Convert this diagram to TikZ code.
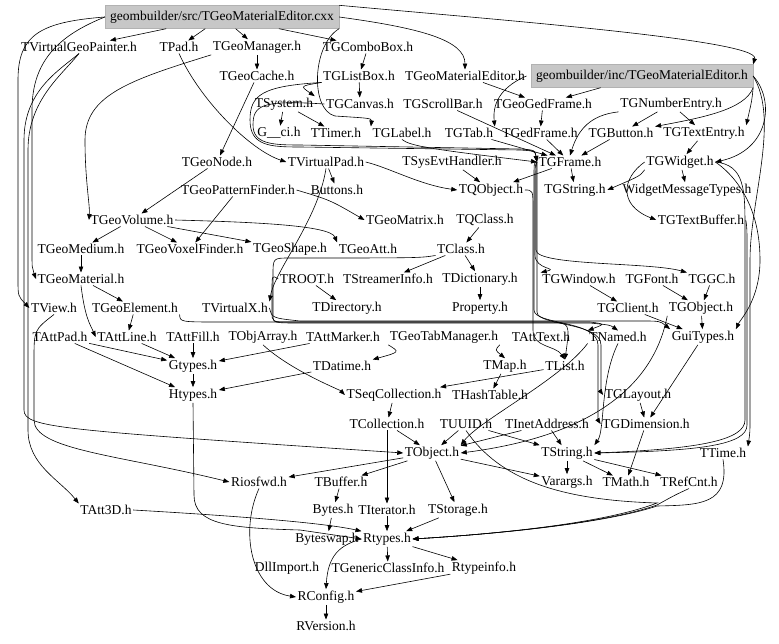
\documentclass[tikz,border=0pt]{standalone}
\usepackage{fontspec}
\setmainfont{Liberation Serif}
\usetikzlibrary{arrows.meta}

\begin{document}
\begin{tikzpicture}[x=1pt,y=-1pt,
  hdr/.style={font=\fontsize{13.5}{15}\selectfont, inner sep=1.5pt},
  srcbox/.style={hdr, fill=black!22, draw=black!30, minimum height=23pt, inner xsep=5pt},
  dep/.style={-{Triangle[length=6pt,width=4.5pt]}, line width=0.6pt}]

\useasboundingbox (0,0) rectangle (779,644);

\node[srcbox] (cxx) at (222,17) {geombuilder/src/TGeoMaterialEditor.cxx};
\node[hdr] (painter) at (79,47) {TVirtualGeoPainter.h};
\node[hdr] (tpad) at (179,47) {TPad.h};
\node[hdr] (geomgr) at (257,47) {TGeoManager.h};
\node[hdr] (combo) at (368,47) {TGComboBox.h};
\node[hdr] (cache) at (257,76) {TGeoCache.h};
\node[hdr] (listbox) at (359,76) {TGListBox.h};
\node[hdr] (mated) at (465,76) {TGeoMaterialEditor.h};
\node[srcbox] (inc) at (642,76) {geombuilder/inc/TGeoMaterialEditor.h};
\node[hdr] (system) at (284,104) {TSystem.h};
\node[hdr] (canvas) at (360,104) {TGCanvas.h};
\node[hdr] (scroll) at (443,104) {TGScrollBar.h};
\node[hdr] (geoged) at (543,104) {TGeoGedFrame.h};
\node[hdr] (numentry) at (671,104) {TGNumberEntry.h};
\node[hdr] (gci) at (279,133) {G\_\_ci.h};
\node[hdr] (timer) at (336,133) {TTimer.h};
\node[hdr] (tglabel) at (402,133) {TGLabel.h};
\node[hdr] (tgtab) at (469,133) {TGTab.h};
\node[hdr] (gedframe) at (540,133) {TGedFrame.h};
\node[hdr] (tgbutton) at (621,133) {TGButton.h};
\node[hdr] (textentry) at (704,133) {TGTextEntry.h};
\node[hdr] (geonode) at (217,162) {TGeoNode.h};
\node[hdr] (vpad) at (326,162) {TVirtualPad.h};
\node[hdr] (sysevt) at (452,162) {TSysEvtHandler.h};
\node[hdr] (tgframe) at (570,162) {TGFrame.h};
\node[hdr] (tgwidget) at (680,162) {TGWidget.h};
\node[hdr] (pattern) at (238,190) {TGeoPatternFinder.h};
\node[hdr] (buttons) at (337,190) {Buttons.h};
\node[hdr] (tqobject) at (491,190) {TQObject.h};
\node[hdr] (tgstring) at (575,190) {TGString.h};
\node[hdr] (wmt) at (687,190) {WidgetMessageTypes.h};
\node[hdr] (geovol) at (132,220) {TGeoVolume.h};
\node[hdr] (geomatrix) at (405,220) {TGeoMatrix.h};
\node[hdr] (tqclass) at (485,220) {TQClass.h};
\node[hdr] (textbuf) at (701,220) {TGTextBuffer.h};
\node[hdr] (geomedium) at (81,249) {TGeoMedium.h};
\node[hdr] (voxel) at (190,249) {TGeoVoxelFinder.h};
\node[hdr] (geoshape) at (290,249) {TGeoShape.h};
\node[hdr] (geoatt) at (368,249) {TGeoAtt.h};
\node[hdr] (tclass) at (461,249) {TClass.h};
\node[hdr] (geomat) at (81,279) {TGeoMaterial.h};
\node[hdr] (troot) at (307,279) {TROOT.h};
\node[hdr] (streamer) at (388,279) {TStreamerInfo.h};
\node[hdr] (tdict) at (480,279) {TDictionary.h};
\node[hdr] (tgwindow) at (579,279) {TGWindow.h};
\node[hdr] (tgfont) at (652,279) {TGFont.h};
\node[hdr] (tggc) at (712,279) {TGGC.h};
\node[hdr] (tview) at (54,308) {TView.h};
\node[hdr] (geoelem) at (135,308) {TGeoElement.h};
\node[hdr] (vx) at (235,308) {TVirtualX.h};
\node[hdr] (tdir) at (347,308) {TDirectory.h};
\node[hdr] (property) at (480,308) {Property.h};
\node[hdr] (tgclient) at (628,308) {TGClient.h};
\node[hdr] (tgobject) at (701,308) {TGObject.h};
\node[hdr] (attpad) at (60,337) {TAttPad.h};
\node[hdr] (attline) at (127,337) {TAttLine.h};
\node[hdr] (attfill) at (193,337) {TAttFill.h};
\node[hdr] (objarray) at (263,337) {TObjArray.h};
\node[hdr] (attmarker) at (343,337) {TAttMarker.h};
\node[hdr] (tabmgr) at (444,337) {TGeoTabManager.h};
\node[hdr] (atttext) at (541,337) {TAttText.h};
\node[hdr] (tnamed) at (618,337) {TNamed.h};
\node[hdr] (guitypes) at (703,337) {GuiTypes.h};
\node[hdr] (gtypes) at (193,366) {Gtypes.h};
\node[hdr] (datime) at (342,366) {TDatime.h};
\node[hdr] (tmap) at (505,366) {TMap.h};
\node[hdr] (tlist) at (565,366) {TList.h};
\node[hdr] (htypes) at (193,395) {Htypes.h};
\node[hdr] (seqcoll) at (394,395) {TSeqCollection.h};
\node[hdr] (hashtable) at (490,395) {THashTable.h};
\node[hdr] (tglayout) at (638,395) {TGLayout.h};
\node[hdr] (tcoll) at (387,424) {TCollection.h};
\node[hdr] (uuid) at (466,424) {TUUID.h};
\node[hdr] (inet) at (547,424) {TInetAddress.h};
\node[hdr] (tgdim) at (646,424) {TGDimension.h};
\node[hdr] (tobject) at (432,453) {TObject.h};
\node[hdr] (tstring) at (567,453) {TString.h};
\node[hdr] (ttime) at (723,453) {TTime.h};
\node[hdr] (riosfwd) at (259,482) {Riosfwd.h};
\node[hdr] (tbuffer) at (341,482) {TBuffer.h};
\node[hdr] (varargs) at (567,482) {Varargs.h};
\node[hdr] (tmath) at (626,482) {TMath.h};
\node[hdr] (trefcnt) at (689,482) {TRefCnt.h};
\node[hdr] (att3d) at (106,510) {TAtt3D.h};
\node[hdr] (bytes) at (333,510) {Bytes.h};
\node[hdr] (titer) at (387,510) {TIterator.h};
\node[hdr] (tstorage) at (458,510) {TStorage.h};
\node[hdr] (byteswap) at (327,539) {Byteswap.h};
\node[hdr] (rtypes) at (387,539) {Rtypes.h};
\node[hdr] (dllimport) at (287,568) {DllImport.h};
\node[hdr] (genclass) at (388,568) {TGenericClassInfo.h};
\node[hdr] (rtypeinfo) at (484,568) {Rtypeinfo.h};
\node[hdr] (rconfig) at (326,597) {RConfig.h};
\node[hdr] (rversion) at (326,626) {RVersion.h};

% top rows
\draw[dep] (cxx) -- (painter);
\draw[dep] (cxx) -- (tpad);
\draw[dep] (cxx) -- (geomgr);
\draw[dep] (cxx) -- (combo);
\draw[dep] (cxx.east) .. controls (420,28) and (465,40) .. (mated.north);
\draw[dep] (cxx.north east) .. controls (500,20) and (760,40) .. (inc.north east);
\draw[dep] (cxx.south east) .. controls (312,45) and (310,110) .. (335,116) .. controls (365,118) and (372,118) .. (tglabel.north west);
\draw[dep] (geomgr) -- (cache);
\draw[dep] (cache) -- (geonode);
\draw[dep] (combo) -- (listbox);
\draw[dep] (listbox) -- (canvas);
\draw[dep] (listbox.south west) .. controls (300,86) .. (system.north east);
\draw[dep] (system) -- (gci);
\draw[dep] (system) -- (timer);
\draw[dep] (mated) -- (geoged);
\draw[dep] (mated.east) .. controls (505,85) and (492,100) .. (tgtab.north east);
\draw[dep] (inc) -- (geoged);
\draw[dep] (inc.south east) .. controls (745,110) and (700,118) .. (tgbutton.north east);
\draw[dep] (inc.south east) .. controls (752,100) .. (textentry.north east);
\draw[dep] (inc.east) .. controls (775,100) and (770,150) .. (tgwidget.east);
\draw[dep] (geoged) -- (gedframe);
\draw[dep] (numentry) -- (tgbutton);
\draw[dep] (numentry) -- (textentry);
\draw[dep] (numentry.south west) .. controls (590,115) and (578,130) .. (tgframe.north);
\draw[dep] (gedframe) -- (tgframe);
\draw[dep] (tgbutton) -- (tgframe);
\draw[dep] (textentry) -- (tgwidget);
\draw[dep] (tgtab) -- (tgframe);
\draw[dep] (tglabel.south) .. controls (410,146) and (430,149) .. (tgframe.west);
\draw[dep] (listbox.south west) .. controls (262,86) and (250,95) .. (250,120) .. controls (250,146) and (270,147) .. (300,147) -- (520,150) .. controls (535,151) .. (tgframe.west);
\draw[dep] (canvas.west) .. controls (262,100) and (253,105) .. (253,125) .. controls (253,144) and (272,145) .. (300,145) -- (520,149) .. controls (535,150) .. (tgframe.west);
\draw[dep] (scroll) -- (tgframe);
\draw[dep] (tgwidget) -- (wmt);
\draw[dep] (tgwidget.south west) .. controls (640,176) .. (tgstring.east);
\draw[dep] (tgwidget.west) .. controls (622,178) and (618,205) .. (textbuf.west);
\draw[dep] (tgframe) -- (tgstring);
\draw[dep] (tgframe) -- (tqobject);
\draw[dep] (sysevt) -- (tqobject);
\draw[dep] (tpad.south) .. controls (200,100) and (250,150) .. (vpad.west);
\draw[dep] (vpad) -- (buttons);
\draw[dep] (vpad.east) .. controls (390,168) and (420,185) .. (tqobject.west);
\draw[dep] (vpad.south) .. controls (318,220) and (275,270) .. (vx.north east);

% geometry part
\draw[dep] (geonode) -- (geovol);
\draw[dep] (pattern) -- (voxel);
\draw[dep] (pattern.east) .. controls (330,200) .. (geomatrix.west);
\draw[dep] (geovol) -- (geomedium);
\draw[dep] (geovol) -- (voxel);
\draw[dep] (geovol) -- (geoshape);
\draw[dep] (geovol.east) .. controls (250,222) and (330,225) .. (geoatt.north west);
\draw[dep] (geomedium) -- (geomat);
\draw[dep] (geomat) -- (geoelem);
\draw[dep] (geomat.south) .. controls (85,318) and (90,324) .. (attline.west);
\draw[dep] (geoelem) -- (attline);
\draw[dep] (geomgr.south west) .. controls (130,80) and (85,95) .. (85,140) .. controls (85,180) and (90,205) .. (geovol.west);

% left side
\draw[dep] (cxx.west) .. controls (40,22) and (18,35) .. (18,80) -- (18,280) .. controls (18,296) .. (tview.west);
\draw[dep] (painter.south) .. controls (60,70) and (24,90) .. (24,140) -- (24,410) .. controls (24,428) and (60,430) .. (tobject.west);
\draw[dep] (painter.south) .. controls (62,75) and (28,100) .. (28,150) -- (28,430) .. controls (28,465) and (60,480) .. (att3d.north west);
\draw[dep] (cxx.west) .. controls (60,35) and (32,60) .. (32,110) -- (32,250) .. controls (32,268) .. (geomat.west);
\draw[dep] (tview.south) .. controls (34,330) .. (34,360) -- (34,420) .. controls (34,450) and (120,455) .. (riosfwd.west);

% core part
\draw[dep] (tqclass) -- (tclass);
\draw[dep] (tclass) -- (tdict);
\draw[dep] (tclass) -- (streamer);
\draw[dep] (tdict) -- (property);
\draw[dep] (troot) -- (tdir);
\draw[dep] (tqobject.east) .. controls (533,190) .. (533,210) -- (533,330) .. controls (533,348) and (555,345) .. (tlist.north);
\draw[dep] (tgframe.west) .. controls (535,165) .. (535,185) -- (535,255) .. controls (535,270) and (560,268) .. (tgwindow.north west);
\draw[dep] (tgframe.west) .. controls (536,165) .. (536,185) -- (536,250) .. controls (536,266) and (650,262) .. (tggc.north west);
\draw[dep] (troot.west) .. controls (272,275) .. (272,290) -- (272,312) .. controls (272,322) .. (290,322) -- (550,322) .. controls (570,323) .. (tlist.north);
\draw[dep] (tclass.south west) .. controls (420,258) .. (290,258) .. controls (273,258) .. (273,275) -- (273,315) .. controls (273,323) .. (300,323) -- (590,323) .. controls (610,325) .. (tnamed.north);
\draw[dep] (vx.east) .. controls (272,318) .. (300,321) -- (640,321) .. controls (660,321) .. (guitypes.north west);
\draw[dep] (geoelem.south east) .. controls (180,322) .. (220,322) -- (590,322) .. controls (605,324) .. (tnamed.north west);
\draw[dep] (tgframe.west) .. controls (534,162) .. (534,180) -- (534,310) .. controls (534,325) and (598,320) .. (598,345) -- (598,405) .. controls (598,420) .. (tgdim.west);
\draw[dep] (tgframe.west) .. controls (537,163) .. (537,182) -- (537,312) .. controls (537,326) and (601,322) .. (601,345) -- (601,380) .. controls (601,392) .. (tglayout.west);

% gui part
\draw[dep] (tgwindow) -- (tgclient);
\draw[dep] (tgfont) -- (tgobject);
\draw[dep] (tggc) -- (tgobject);
\draw[dep] (tgobject) -- (guitypes);
\draw[dep] (tgclient) -- (guitypes);
\draw[dep] (guitypes) -- (tgdim);
\draw[dep] (tglayout) -- (tgdim);
\draw[dep] (tgdim) -- (tmath);
\draw[dep] (tgobject.south west) .. controls (655,380) and (600,435) .. (tobject.east);
\draw[dep] (tgwidget.east) .. controls (745,165) and (745,190) .. (745,230) -- (745,420) .. controls (745,440) and (700,449) .. (tstring.east);
\draw[dep] (textbuf.east) .. controls (747,228) .. (747,250) -- (747,425) .. controls (747,445) and (700,451) .. (tstring.east);
\draw[dep] (inc.east) .. controls (780,120) and (750,200) .. (750,260) -- (750,420) .. controls (750,432) .. (ttime.north east);
\draw[dep] (tgwidget.east) .. controls (730,172) and (760,200) .. (760,260) .. controls (760,300) and (740,320) .. (guitypes.north east);

% lower part
\draw[dep] (attpad) -- (gtypes);
\draw[dep] (attpad) -- (htypes);
\draw[dep] (attline) -- (gtypes);
\draw[dep] (attfill) -- (gtypes);
\draw[dep] (attmarker) -- (gtypes);
\draw[dep] (datime) -- (htypes);
\draw[dep] (gtypes) -- (htypes);
\draw[dep] (objarray.south) .. controls (290,370) and (340,390) .. (seqcoll.west);
\draw[dep] (tabmgr.south west) .. controls (400,352) .. (datime.north east);
\draw[dep] (tabmgr.south east) .. controls (495,350) .. (tmap.north);
\draw[dep] (tmap) -- (hashtable);
\draw[dep] (tlist) -- (seqcoll);
\draw[dep] (seqcoll) -- (tcoll);
\draw[dep] (tcoll) -- (tobject);
\draw[dep] (tcoll) -- (titer);
\draw[dep] (tnamed.south west) .. controls (560,380) and (480,420) .. (tobject.north east);
\draw[dep] (tnamed.south) .. controls (600,380) and (605,430) .. (tstring.north east);
\draw[dep] (uuid) -- (tobject);
\draw[dep] (uuid) -- (tstring);
\draw[dep] (inet) -- (tobject);
\draw[dep] (inet) -- (tstring);
\draw[dep] (tobject) -- (riosfwd);
\draw[dep] (tobject) -- (tbuffer);
\draw[dep] (tobject) -- (tstorage);
\draw[dep] (tobject) -- (varargs);
\draw[dep] (tstring) -- (varargs);
\draw[dep] (tstring) -- (tmath);
\draw[dep] (tstring) -- (trefcnt);
\draw[dep] (tbuffer) -- (bytes);
\draw[dep] (bytes) -- (byteswap);
\draw[dep] (titer) -- (rtypes);
\draw[dep] (tstorage) -- (rtypes);
\draw[dep] (htypes.south) -- (194,495) .. controls (194,525) and (230,528) .. (300,530) -- (rtypes.west);
\draw[dep] (att3d.east) .. controls (220,515) and (320,522) .. (rtypes.north west);
\draw[dep] (uuid.south) .. controls (500,480) and (560,500) .. (657,503) .. controls (600,525) and (480,535) .. (rtypes.east);
\draw[dep] (trefcnt.south) .. controls (675,495) .. (657,505) .. controls (600,525) and (480,535) .. (rtypes.east);
\draw[dep] (ttime.south) .. controls (730,505) and (700,505) .. (657,506) .. controls (600,525) and (480,535) .. (rtypes.east);
\draw[dep] (rtypes) -- (genclass);
\draw[dep] (rtypes) -- (rtypeinfo);
\draw[dep] (rtypes.west) .. controls (340,545) and (328,555) .. (rconfig.north);
\draw[dep] (rtypeinfo) -- (rconfig);
\draw[dep] (riosfwd.south) .. controls (240,530) and (250,590) .. (rconfig.west);
\draw[dep] (rconfig) -- (rversion);
%\draw[dep] (rtypes) -- (dllimport);
\end{tikzpicture}
\end{document}
